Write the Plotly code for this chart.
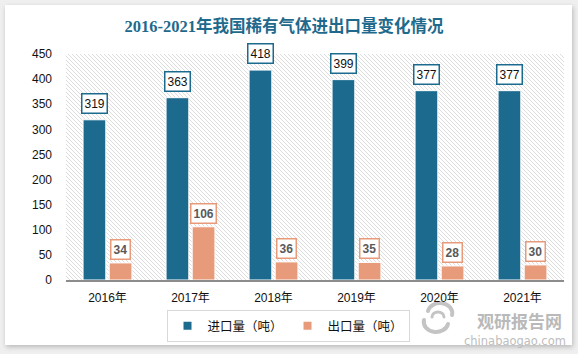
import base64
import plotly.graph_objects as go

# ---------------- data ----------------
categories = ["2016年", "2017年", "2018年", "2019年", "2020年", "2021年"]
import_vals = [319, 363, 418, 399, 377, 377]
export_vals = [34, 106, 36, 35, 28, 30]
series_names = ["进口量（吨）", "出口量（吨）"]
title_text = "2016-2021年我国稀有气体进出口量变化情况"
y_ticks = [0, 50, 100, 150, 200, 250, 300, 350, 400, 450]

# ---------------- style ----------------
W, H = 578, 354
L, R, T, B = 66, 14, 54, 74
PW, PH = W - L - R, H - T - B
C_IMP = "#1c6b8f"
C_EXP = "#e89b7b"
BARGAP, GROUPGAP = 0.37, 0.13
off = (1 - BARGAP) / 4  # bar centre offset in category units


def px(xp):
    return (xp - L) / PW


def py(yp):
    return (H - B - yp) / PH


# hatch drawn as explicit diagonal lines (top-left -> bottom-right)
lines = []
step = 4
k = -PH
while k < PW:
    x1, y1 = L + k, T
    x2, y2 = L + k + PH, T + PH
    lines.append(f"M{x1},{y1}L{x2},{y2}")
    k += step
hatch_path = "".join(lines)

svg = f'''<svg xmlns="http://www.w3.org/2000/svg" width="{W}" height="{H}" viewBox="0 0 {W} {H}">
<defs>
<filter id="s" x="-10%" y="-10%" width="120%" height="120%"><feGaussianBlur stdDeviation="2.5"/></filter>
<clipPath id="c"><rect x="{L}" y="{T}" width="{PW}" height="{PH}"/></clipPath>
</defs>
<rect width="{W}" height="{H}" fill="#efefef"/>
<rect x="6" y="7" width="567" height="340" fill="#b8b8b8" filter="url(#s)"/>
<rect x="5" y="5" width="567" height="340" fill="#ffffff"/>
<path d="{hatch_path}" stroke="#dcdcdc" stroke-width="1" clip-path="url(#c)"/>
<g fill="none" stroke="#c4c4c4" stroke-width="4" stroke-linecap="round">
<path d="M428,311 A11,9 0 0 1 452,315"/>
<path d="M448,324 A11,9 0 0 1 424,320"/>
<path d="M432,317 A6,5 0 0 1 444,317" stroke-width="3"/>
</g>
</svg>'''
src = "data:image/svg+xml;base64," + base64.b64encode(svg.encode("utf-8")).decode()

fig = go.Figure()
fig.add_trace(go.Bar(x=categories, y=import_vals, name=series_names[0],
                     marker=dict(color=C_IMP, line=dict(color="white", width=1)),
                     showlegend=False))
fig.add_trace(go.Bar(x=categories, y=export_vals, name=series_names[1],
                     marker=dict(color=C_EXP, line=dict(color="white", width=1)),
                     showlegend=False))
# legend proxies (small square markers)
for nm, c in zip(series_names, [C_IMP, C_EXP]):
    fig.add_trace(go.Scatter(x=[None], y=[None], mode="markers", name=nm,
                             marker=dict(symbol="square", size=8, color=c)))

ann = []
for i, (a, b) in enumerate(zip(import_vals, export_vals)):
    ann.append(dict(x=i - off, y=a, xref="x", yref="y", text=str(a), showarrow=False,
                    yanchor="bottom", yshift=6,
                    font=dict(family="Liberation Sans", size=12, color="#111111"),
                    bgcolor="white", bordercolor=C_IMP, borderwidth=1.5, borderpad=2))
    ann.append(dict(x=i + off, y=b, xref="x", yref="y", text=f"<b>{b}</b>", showarrow=False,
                    yanchor="bottom", yshift=3,
                    font=dict(family="Liberation Sans", size=12, color="#595959"),
                    bgcolor="white", bordercolor=C_EXP, borderwidth=1.5, borderpad=2))

# watermark
ann.append(dict(x=px(519), y=py(320), xref="paper", yref="paper", text="<b>观研报告网</b>",
                showarrow=False, xanchor="center", yanchor="middle",
                font=dict(family="Noto Sans CJK SC", size=17, color="#b9b9b9")))
ann.append(dict(x=px(515), y=py(341), xref="paper", yref="paper", text="chinabaogao.com",
                showarrow=False, xanchor="center", yanchor="middle",
                font=dict(family="DejaVu Sans", size=11.5, color="#bdbdbd")))

fig.update_layout(
    width=W, height=H,
    margin=dict(l=L, r=R, t=T, b=B, pad=0),
    paper_bgcolor="white",
    plot_bgcolor="rgba(0,0,0,0)",
    barmode="group", bargap=BARGAP, bargroupgap=GROUPGAP,
    title=dict(text=f"<b>{title_text}</b>", x=284 / W, xref="container", xanchor="center",
               y=1 - 26 / H, yref="container", yanchor="middle",
               font=dict(family="Liberation Serif, Noto Sans CJK SC", size=16.5, color="#1f6a8c")),
    xaxis=dict(showgrid=False, showline=True, linecolor="#8c8c8c", linewidth=1.5,
               ticks="", ticklabelstandoff=6, range=[-0.5, 5.5],
               tickfont=dict(family="Liberation Sans, Noto Sans CJK SC", size=12, color="#111111")),
    yaxis=dict(range=[0, 450], tickvals=y_ticks, showgrid=False, zeroline=False,
               showline=False, ticks="", ticklabelstandoff=13,
               tickfont=dict(family="Liberation Sans", size=12, color="#111111")),
    legend=dict(orientation="h", x=px(288), y=py(326), xanchor="center", yanchor="middle",
                bordercolor="#d9d9d9", borderwidth=1, bgcolor="white",
                font=dict(family="Noto Sans CJK SC", size=12.5, color="#111111"),
                itemwidth=30, traceorder="normal"),
    annotations=ann,
    images=[dict(source=src, xref="paper", yref="paper", x=px(0), y=py(0),
                 sizex=W / PW, sizey=H / PH, sizing="stretch",
                 xanchor="left", yanchor="top", layer="below")],
)

fig.write_html("out.html")
